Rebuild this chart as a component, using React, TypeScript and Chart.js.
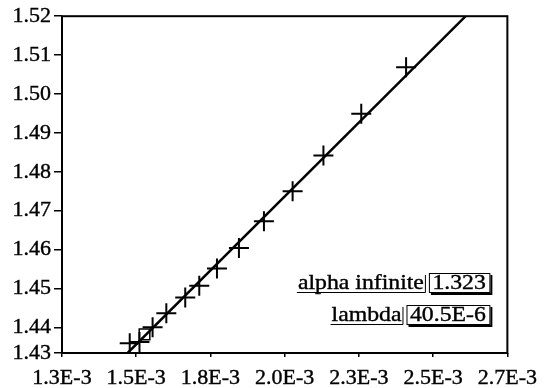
import { useEffect, useRef } from "react";
import { Chart, registerables } from "chart.js";

Chart.register(...registerables);

// Measured refractive index samples
const sampleX = [1.502e-3, 1.534e-3, 1.577e-3, 1.622e-3, 1.684e-3, 1.73e-3, 1.788e-3, 1.86e-3, 1.942e-3, 2.036e-3, 2.137e-3, 2.261e-3, 2.408e-3];
const sampleY = [1.4359, 1.4362, 1.44, 1.4436, 1.4477, 1.4507, 1.4551, 1.4604, 1.4673, 1.475, 1.4842, 1.4949, 1.5069];

// Currently selected sample
const markedX = [1.5505e-3];
const markedY = [1.4382];

// Fitted straight line
const fitX = [1.4951e-3, 2.6032e-3];
const fitY = [1.4334, 1.52];

// Axes
const X_MIN = 1.28e-3;
const X_MAX = 2.74e-3;
const xTickLabels = ["1.3E-3", "1.5E-3", "1.8E-3", "2.0E-3", "2.3E-3", "2.5E-3", "2.7E-3"];
const Y_MIN = 1.4334;
const Y_MAX = 1.52;
const yTickValues = [1.4334, 1.44, 1.45, 1.46, 1.47, 1.48, 1.49, 1.5, 1.51, 1.52];
const yTickLabels = ["1.43", "1.44", "1.45", "1.46", "1.47", "1.48", "1.49", "1.50", "1.51", "1.52"];

// Fit results
const paramNames = ["alpha infinite", "lambda"];
const paramValues = ["1.323", "40.5E-6"];

const FONT = "'Liberation Serif', 'Times New Roman', serif";
const FONT_SIZE = 22;
const TEXT_STRETCH = 1.08;

const framePlugin = {
  id: "frameAndParams",
  afterDatasetsDraw(chart: any) {
    const { ctx, chartArea } = chart;
    const { left, right, top, bottom } = chartArea;
    ctx.save();
    ctx.strokeStyle = "#000";
    ctx.lineWidth = 2;
    ctx.strokeRect(left, top, right - left, bottom - top);

    // parameter boxes
    ctx.font = `${FONT_SIZE}px ${FONT}`;
    ctx.fillStyle = "#000";
    ctx.textBaseline = "alphabetic";
    ctx.textAlign = "left";
    const drawText = (s: string, x: number, y: number) => {
      ctx.save();
      ctx.translate(x, y);
      ctx.scale(TEXT_STRETCH, 1);
      ctx.fillText(s, 0, 0);
      ctx.lineWidth = 0.4;
      ctx.strokeText(s, 0, 0);
      ctx.restore();
    };
    const boxRight = right - 18;
    const rowBottoms = [bottom - 61, bottom - 29];
    const boxH = 19;
    paramNames.forEach((name, i) => {
      const by = rowBottoms[i];
      const bTop = by - boxH;
      const vw = ctx.measureText(paramValues[i]).width * TEXT_STRETCH;
      const bw = vw + 7;
      const bx = boxRight - bw;
      // value box with drop shadow on right/bottom
      ctx.lineWidth = 1;
      ctx.strokeRect(bx + 0.5, bTop + 0.5, bw, boxH);
      ctx.lineWidth = 2;
      ctx.beginPath();
      ctx.moveTo(bx + bw + 2, bTop + 2);
      ctx.lineTo(bx + bw + 2, by + 2);
      ctx.lineTo(bx + 2, by + 2);
      ctx.stroke();
      drawText(paramValues[i], bx + 3.5, by - 3);
      // name label, underlined with a closing tick
      const nw = ctx.measureText(name).width * TEXT_STRETCH;
      const nRight = bx - 4;
      drawText(name, nRight - 1 - nw, by - 3);
      ctx.lineWidth = 1;
      ctx.beginPath();
      ctx.moveTo(nRight - nw - 2, by + 0.5);
      ctx.lineTo(nRight + 0.5, by + 0.5);
      ctx.lineTo(nRight + 0.5, bTop + 2);
      ctx.stroke();
    });
    ctx.restore();
  },
};

export default function App() {
  const canvasRef = useRef<HTMLCanvasElement | null>(null);

  useEffect(() => {
    const canvas = canvasRef.current;
    if (!canvas) return;

    const chart = new Chart(canvas, {
      type: "scatter",
      data: {
        datasets: [
          {
            type: "line",
            label: "fit",
            data: fitX.map((x, i) => ({ x, y: fitY[i] })),
            borderColor: "#000",
            borderWidth: 2.5,
            pointRadius: 0,
            fill: false,
          },
          {
            label: "samples",
            data: sampleX.map((x, i) => ({ x, y: sampleY[i] })),
            pointStyle: "cross",
            pointRadius: 10,
            borderColor: "#000",
            borderWidth: 2,
            showLine: false,
          },
          {
            label: "selected",
            data: markedX.map((x, i) => ({ x, y: markedY[i] })),
            pointStyle: "rect",
            pointRadius: 7.5,
            borderColor: "#000",
            backgroundColor: "rgba(0,0,0,0)",
            borderWidth: 1.5,
            showLine: false,
          },
        ],
      },
      options: {
        responsive: false,
        animation: false,
        events: [],
        layout: { padding: { top: 13, right: 35, left: 0, bottom: 0 } },
        plugins: {
          legend: { display: false },
          tooltip: { enabled: false },
        },
        scales: {
          x: {
            type: "linear",
            min: X_MIN,
            max: X_MAX,
            afterBuildTicks: (axis: any) => {
              const n = xTickLabels.length;
              axis.ticks = xTickLabels.map((_, i) => ({ value: X_MIN + (i * (X_MAX - X_MIN)) / (n - 1) }));
            },
            afterFit: (axis: any) => {
              axis.height = 35;
            },
            ticks: {
              autoSkip: false,
              maxRotation: 0,
              padding: 8,
              color: "#000",
              textStrokeColor: "#000",
              textStrokeWidth: 0.4,
              font: { family: FONT, size: FONT_SIZE },
              callback: (_v: any, i: number) => xTickLabels[i],
            },
            grid: { drawOnChartArea: false, drawTicks: true, tickLength: 4, color: "#000", lineWidth: 1.5 },
            border: { display: false },
          },
          y: {
            type: "linear",
            min: Y_MIN,
            max: Y_MAX,
            afterBuildTicks: (axis: any) => {
              axis.ticks = yTickValues.map((v) => ({ value: v }));
            },
            afterFit: (axis: any) => {
              axis.width = 62;
            },
            ticks: {
              autoSkip: false,
              padding: 3,
              color: "#000",
              textStrokeColor: "#000",
              textStrokeWidth: 0.4,
              font: { family: FONT, size: FONT_SIZE },
              callback: (_v: any, i: number) => yTickLabels[i],
            },
            grid: { drawOnChartArea: false, drawTicks: true, tickLength: 8, color: "#000", lineWidth: 1.5 },
            border: { display: false },
          },
        },
      },
      plugins: [framePlugin],
    });

    return () => chart.destroy();
  }, []);

  return (
    <div style={{ position: "fixed", left: 0, top: 0, width: 545, height: 388, background: "#fff" }}>
      <canvas ref={canvasRef} width={545} height={388} style={{ display: "block" }} />
    </div>
  );
}
